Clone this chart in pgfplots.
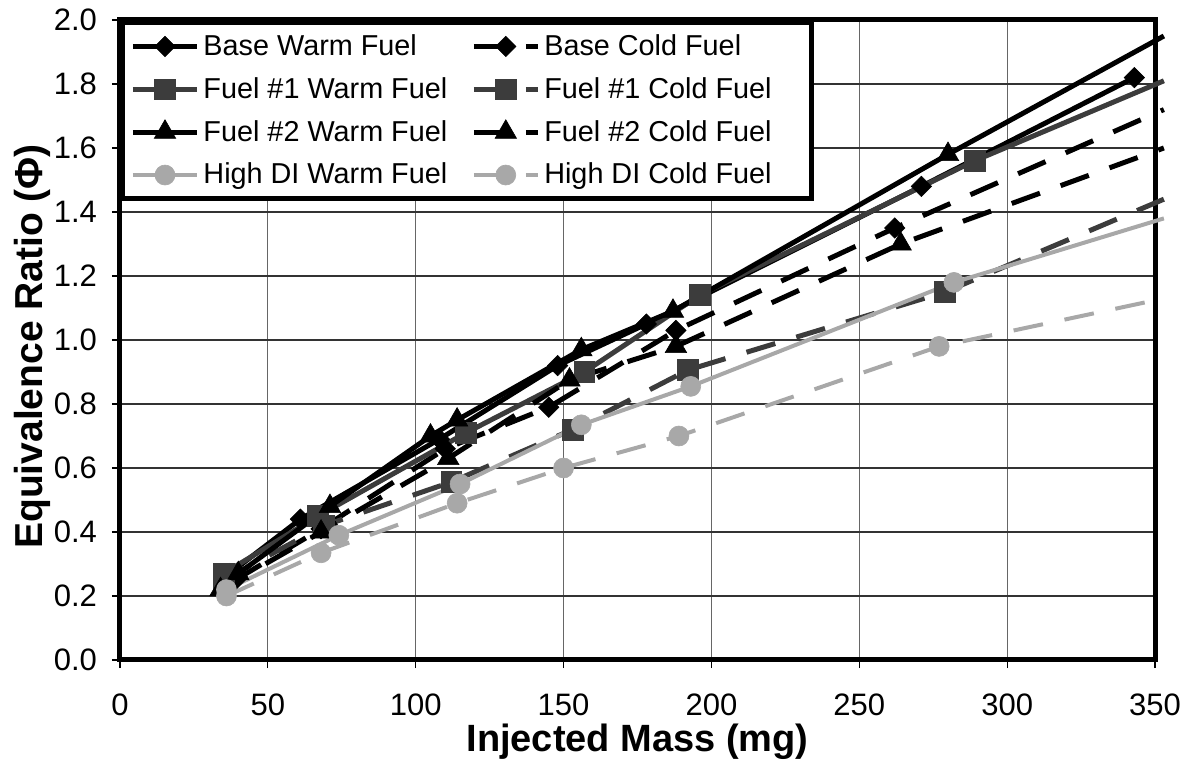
\documentclass[border=0pt]{standalone}
\usepackage{pgfplots}
\pgfplotsset{compat=1.18}
\usepackage{fontspec}
\setmainfont{Liberation Sans}
\definecolor{fuelone}{HTML}{3C3C3C}
\definecolor{hdi}{HTML}{A8A8A8}
\begin{document}
\begin{tikzpicture}
\useasboundingbox (-60pt,-52pt) rectangle (533pt,330pt);
\begin{axis}[
  scale only axis, width=517.5pt, height=320pt,
  xmin=0, xmax=350, ymin=0, ymax=2,
  xtick={0,50,100,150,200,250,300,350},
  ytick={0,0.2,0.4,0.6,0.8,1.0,1.2,1.4,1.6,1.8,2.0},
  /pgf/number format/assume math mode=true,
  yticklabel style={/pgf/number format/fixed, /pgf/number format/fixed zerofill, /pgf/number format/precision=1},
  tick label style={font=\fontsize{15.5}{18}\selectfont},
  xticklabel style={anchor=center, yshift=-18.5pt},
  yticklabel style={anchor=east, xshift=-4pt},
  xtick pos=left, ytick pos=left,
  tick align=outside, major tick length=4pt,
  tick style={line width=0.6pt, black},
  grid=major,
  x grid style={line width=0.5pt, black!60},
  y grid style={line width=0.7pt, black!80},
  axis line style={line width=2.5pt},
  xlabel={\bfseries Injected Mass (mg)},
  ylabel={\bfseries Equivalence Ratio (Φ)},
  xlabel style={font=\fontsize{19}{23}\selectfont, at={(axis description cs:0.5,-0.127)}, anchor=center},
  ylabel style={font=\fontsize{19.5}{23}\selectfont, at={(axis description cs:-0.085,0.49)}, anchor=center},
  clip=false,
  legend columns=2,
  legend cell align=left,
  legend style={at={(rel axis cs:0,1)}, anchor=north west, draw=black,
    line width=2.5pt, fill=white, font=\fontsize{14.4}{17}\selectfont,
    inner xsep=4pt, inner ysep=4pt, row sep=5.5pt,
    /tikz/every even column/.append style={column sep=10pt}},
  legend image code/.code={\draw[#1, mark indices={2}] plot coordinates {(0pt,0pt) (16pt,0pt) (32pt,0pt)};},
]
% Base Warm
\addplot[black, line width=2.5pt, mark=square*, mark size=3.6pt,
  mark options={rotate=45, solid, line width=0.3pt, fill=black}]
  coordinates {(37,0.27) (61,0.44) (108,0.69) (148,0.92) (178,1.05) (271,1.48) (343,1.82)};
\addlegendentry{Base Warm Fuel}
% Base Cold
\addplot[black, line width=2.5pt, dash pattern=on 15pt off 11pt, mark=square*, mark size=3.6pt,
  mark options={rotate=45, solid, line width=0.3pt, fill=black}, mark indices={1,2,3,4,5,6}]
  coordinates {(39,0.25) (68,0.41) (110,0.66) (145,0.79) (188,1.03) (262,1.35) (353,1.72)};
\addlegendentry{Base Cold Fuel\rule{14pt}{0pt}}
% Fuel 1 Warm
\addplot[fuelone, line width=2.5pt, mark=square*, mark size=5.2pt,
  mark options={solid, line width=0.3pt, fill=fuelone}, mark indices={1,2,3,4,5,6}]
  coordinates {(35,0.27) (67,0.45) (117,0.71) (157,0.90) (196,1.14) (289,1.56) (353,1.81)};
\addlegendentry{Fuel \#1 Warm Fuel}
% Fuel 1 Cold
\addplot[fuelone, line width=2.5pt, dash pattern=on 15pt off 11pt, mark=square*, mark size=5.2pt,
  mark options={solid, line width=0.3pt, fill=fuelone}, mark indices={1,2,3,4,5,6}]
  coordinates {(35,0.25) (69,0.42) (112,0.556) (153,0.72) (192,0.906) (279,1.15) (353,1.44)};
\addlegendentry{Fuel \#1 Cold Fuel\rule{14pt}{0pt}}
% Fuel 2 Warm
\addplot[black, line width=2.5pt, mark=triangle*, mark size=6.2pt,
  mark options={solid, line width=0.3pt, fill=black}, mark indices={1,2,3,4,5,6,7}]
  coordinates {(40,0.27) (71,0.48) (105,0.70) (114,0.75) (156,0.97) (187,1.09) (280,1.58) (353,1.95)};
\addlegendentry{Fuel \#2 Warm Fuel}
% Fuel 2 Cold
\addplot[black, line width=2.5pt, dash pattern=on 15pt off 11pt, mark=triangle*, mark size=6.2pt,
  mark options={solid, line width=0.3pt, fill=black}, mark indices={1,2,3,4,5,6}]
  coordinates {(34,0.22) (68,0.40) (111,0.63) (152,0.875) (188,0.98) (264,1.30) (353,1.60)};
\addlegendentry{Fuel \#2 Cold Fuel\rule{14pt}{0pt}}
% High DI Warm
\addplot[hdi, line width=2pt, mark=*, mark size=5pt,
  mark options={solid, line width=0.3pt, fill=hdi}, mark indices={1,2,3,4,5,6}]
  coordinates {(36,0.22) (74,0.39) (115,0.55) (156,0.735) (193,0.855) (282,1.18) (353,1.38)};
\addlegendentry{High DI Warm Fuel}
% High DI Cold
\addplot[hdi, line width=2pt, dash pattern=on 15pt off 11pt, mark=*, mark size=5pt,
  mark options={solid, line width=0.3pt, fill=hdi}, mark indices={1,2,3,4,5,6}]
  coordinates {(36,0.20) (68,0.335) (114,0.49) (150,0.60) (189,0.70) (277,0.98) (353,1.13)};
\addlegendentry{High DI Cold Fuel\rule{14pt}{0pt}}
\end{axis}
\end{tikzpicture}
\end{document}
